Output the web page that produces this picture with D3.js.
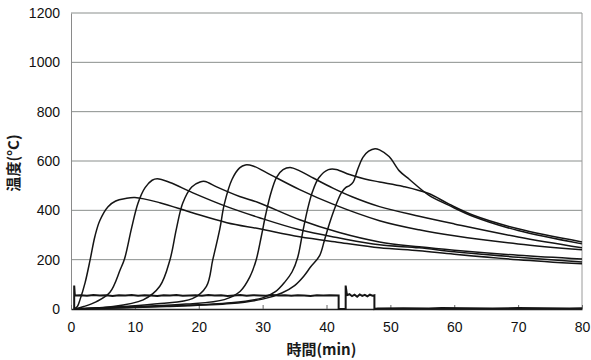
<!DOCTYPE html>
<html>
<head>
<meta charset="utf-8">
<script src="https://cdn.jsdelivr.net/npm/d3@7"></script>
<style>
  body { margin: 0; background: #fff; }
  svg { display: block; }
</style>
</head>
<body>
<svg id="chart" width="591" height="360"></svg>
<script>
// Data (time in min, temperature in degC)
var yTicks = [0, 200, 400, 600, 800, 1000, 1200];
var xTicks = [0, 10, 20, 30, 40, 50, 60, 70, 80];

var curveA = [[0.5,0],[1,10],[1.4,37],[2.2,106],[3,200],[3.75,295],[4.5,358],[5.8,415],[7,438],[8.5,448],[10,452],[13.9,431],[19,390],[24.4,350],[29.5,325],[35.8,293],[42,270],[48.3,248],[54.5,236],[60,222],[70,200],[80,183]];
var curveB = [[0.5,0],[2,10],[4,30],[6.1,68],[7.7,159],[8.4,205],[9.5,330],[10.5,430],[11.6,492],[12.7,522],[13.5,528],[15.5,513],[19,472],[24.4,415],[29.5,370],[35.8,321],[42,288],[48.3,260],[54.5,248],[60,232],[70,210],[80,191]];
var curveC = [[0.5,0],[6,8],[11.3,37],[13.9,92],[15.5,200],[16.5,325],[17.5,430],[18.9,495],[20.2,515],[21,517],[22.8,495],[26.4,456],[29.5,430],[35.8,362],[42,310],[48.3,272],[54.5,252],[60,238],[70,218],[80,203]];
var curveD = [[0.5,0],[8,10],[14,22],[19,42],[21.2,92],[22.2,200],[23.3,325],[24,425],[25.2,525],[26.4,572],[27.3,584],[28.5,580],[30.6,553],[35.8,484],[41,425],[48.3,358],[54.5,321],[60,297],[70,264],[80,240]];
var curveE = [[0.5,0],[10,10],[18,20],[24,38],[26.5,72],[28,130],[29,200],[29.8,295],[30.5,385],[31.3,470],[32.2,535],[33.2,565],[34.3,574],[35.8,560],[38,530],[41,490],[44,455],[48.3,415],[54.5,376],[60,345],[70,292],[80,248]];
var curveF = [[0.5,0],[15,12],[25,25],[30,45],[32,70],[33.5,110],[34.6,150],[35.5,210],[36.3,315],[37,400],[37.8,475],[38.8,532],[40.3,565],[41.5,566],[43.6,545],[46,527],[48.3,515],[52,497],[56,468],[59.2,425],[63,380],[70,325],[80,272]];
var curveG = [[0.5,0],[15,10],[25,22],[30,40],[33,65],[35,95],[36.5,135],[37.5,170],[38.9,215],[39.7,281],[40.5,350],[41.5,423],[42.3,470],[43,492],[43.6,500],[44.2,515],[44.8,560],[45.7,615],[46.6,640],[47.6,650],[48.3,645],[49.8,618],[51.4,560],[53,525],[56,462],[59.2,420],[63,375],[70,318],[80,264]];

// the flat ~55 trace with its drop-outs
var stepTimes = [0.5,0.5,0.6,1.5,2.5,3.5,4.5,5.5,6.5,7.5,8.5,9.5,10.5,11.5,12.5,13.5,14.5,15.5,16.5,17.5,18.5,19.5,20.5,21.5,22.5,23.5,24.5,25.5,26.5,27.5,28.5,29.5,30.5,31.5,32.5,33.5,34.5,35.5,36.5,37.5,38.5,39.5,40.5,41.9,41.9,43,43,43.2,43.6,44,44.4,44.8,45.2,45.6,46,46.4,46.8,47.2,47.5,47.5,48,52,56,58,62,66,70,74,78,80];
var stepValues = [0,95,55,56,54,57,55,56,53,56,55,57,54,56,55,53,56,55,57,54,55,56,54,57,55,56,53,55,57,54,56,55,54,57,55,56,54,56,55,53,56,55,56,55,0,0,95,56,60,52,58,50,59,53,57,51,58,54,56,0,2,3,2,4,3,2,4,3,2,3];

var temperatureCurves = [curveA, curveB, curveC, curveD, curveE, curveF, curveG];

const margin = { top: 13, bottom: 51, left: 71, right: 9 };
const svg = d3.select("#chart");
const width = +svg.attr("width") - margin.left - margin.right;
const height = +svg.attr("height") - margin.top - margin.bottom;

const plot = svg.append("g")
  .attr("transform", `translate(${margin.left},${margin.top})`);

const xscale = d3.scaleLinear().domain([0, 80]).range([0, width]);
const yscale = d3.scaleLinear().domain([0, 1200]).range([height, 0]);

// gridlines
plot.append("g")
  .selectAll("line")
  .data(yTicks.slice(1))
  .enter()
  .append("line")
  .attr("x1", 0)
  .attr("x2", width)
  .attr("y1", d => yscale(d))
  .attr("y2", d => yscale(d))
  .attr("stroke", "#8a8f8c")
  .attr("stroke-width", 1);

// right border
plot.append("line")
  .attr("x1", width).attr("x2", width)
  .attr("y1", 0).attr("y2", height)
  .attr("stroke", "#9a9a9a");

// y axis
const yaxis = d3.axisLeft(yscale).tickValues(yTicks).tickFormat(d3.format("d")).tickSize(0).tickPadding(11);
plot.append("g")
  .call(yaxis)
  .call(g => g.select(".domain").attr("stroke", "#8a8a8a"))
  .selectAll("text")
  .style("font-family", "Liberation Sans, Arial, sans-serif")
  .style("font-size", "14px")
  .attr("fill", "#111");

// x axis
const xaxis = d3.axisBottom(xscale).tickValues(xTicks).tickSizeInner(-4).tickSizeOuter(0).tickPadding(13);
plot.append("g")
  .attr("transform", `translate(0,${height})`)
  .call(xaxis)
  .call(g => g.select(".domain").attr("stroke", "#222").attr("stroke-width", 1.3))
  .call(g => g.selectAll(".tick line").attr("stroke", "#666"))
  .selectAll("text")
  .style("font-family", "Liberation Sans, Arial, sans-serif")
  .style("font-size", "14px")
  .attr("fill", "#111");

// curves
const line = d3.line()
  .x(d => xscale(d[0]))
  .y(d => yscale(d[1]))
  .curve(d3.curveCatmullRom.alpha(0.5));

plot.selectAll(".temp")
  .data(temperatureCurves)
  .enter()
  .append("path")
  .attr("class", "temp")
  .attr("d", line)
  .attr("fill", "none")
  .attr("stroke", "#151515")
  .attr("stroke-width", 1.5);

const stepLine = d3.line()
  .x((d, i) => xscale(stepTimes[i]))
  .y(d => yscale(d));

plot.append("path")
  .attr("d", stepLine(stepValues))
  .attr("fill", "none")
  .attr("stroke", "#151515")
  .attr("stroke-width", 2);

// axis titles
svg.append("text")
  .attr("x", margin.left + xscale(39.2))
  .attr("y", 355)
  .attr("text-anchor", "middle")
  .style("font-family", "Noto Sans CJK JP, sans-serif")
  .style("font-size", "15px")
  .style("font-weight", "bold")
  .attr("fill", "#1a1a1a")
  .text("時間(min)");

svg.append("text")
  .attr("transform", "translate(19,163) rotate(-90)")
  .attr("text-anchor", "middle")
  .style("font-family", "Noto Sans CJK JP, sans-serif")
  .style("font-size", "15px")
  .style("font-weight", "bold")
  .attr("fill", "#1a1a1a")
  .text("温度(°C)");
</script>
</body>
</html>
